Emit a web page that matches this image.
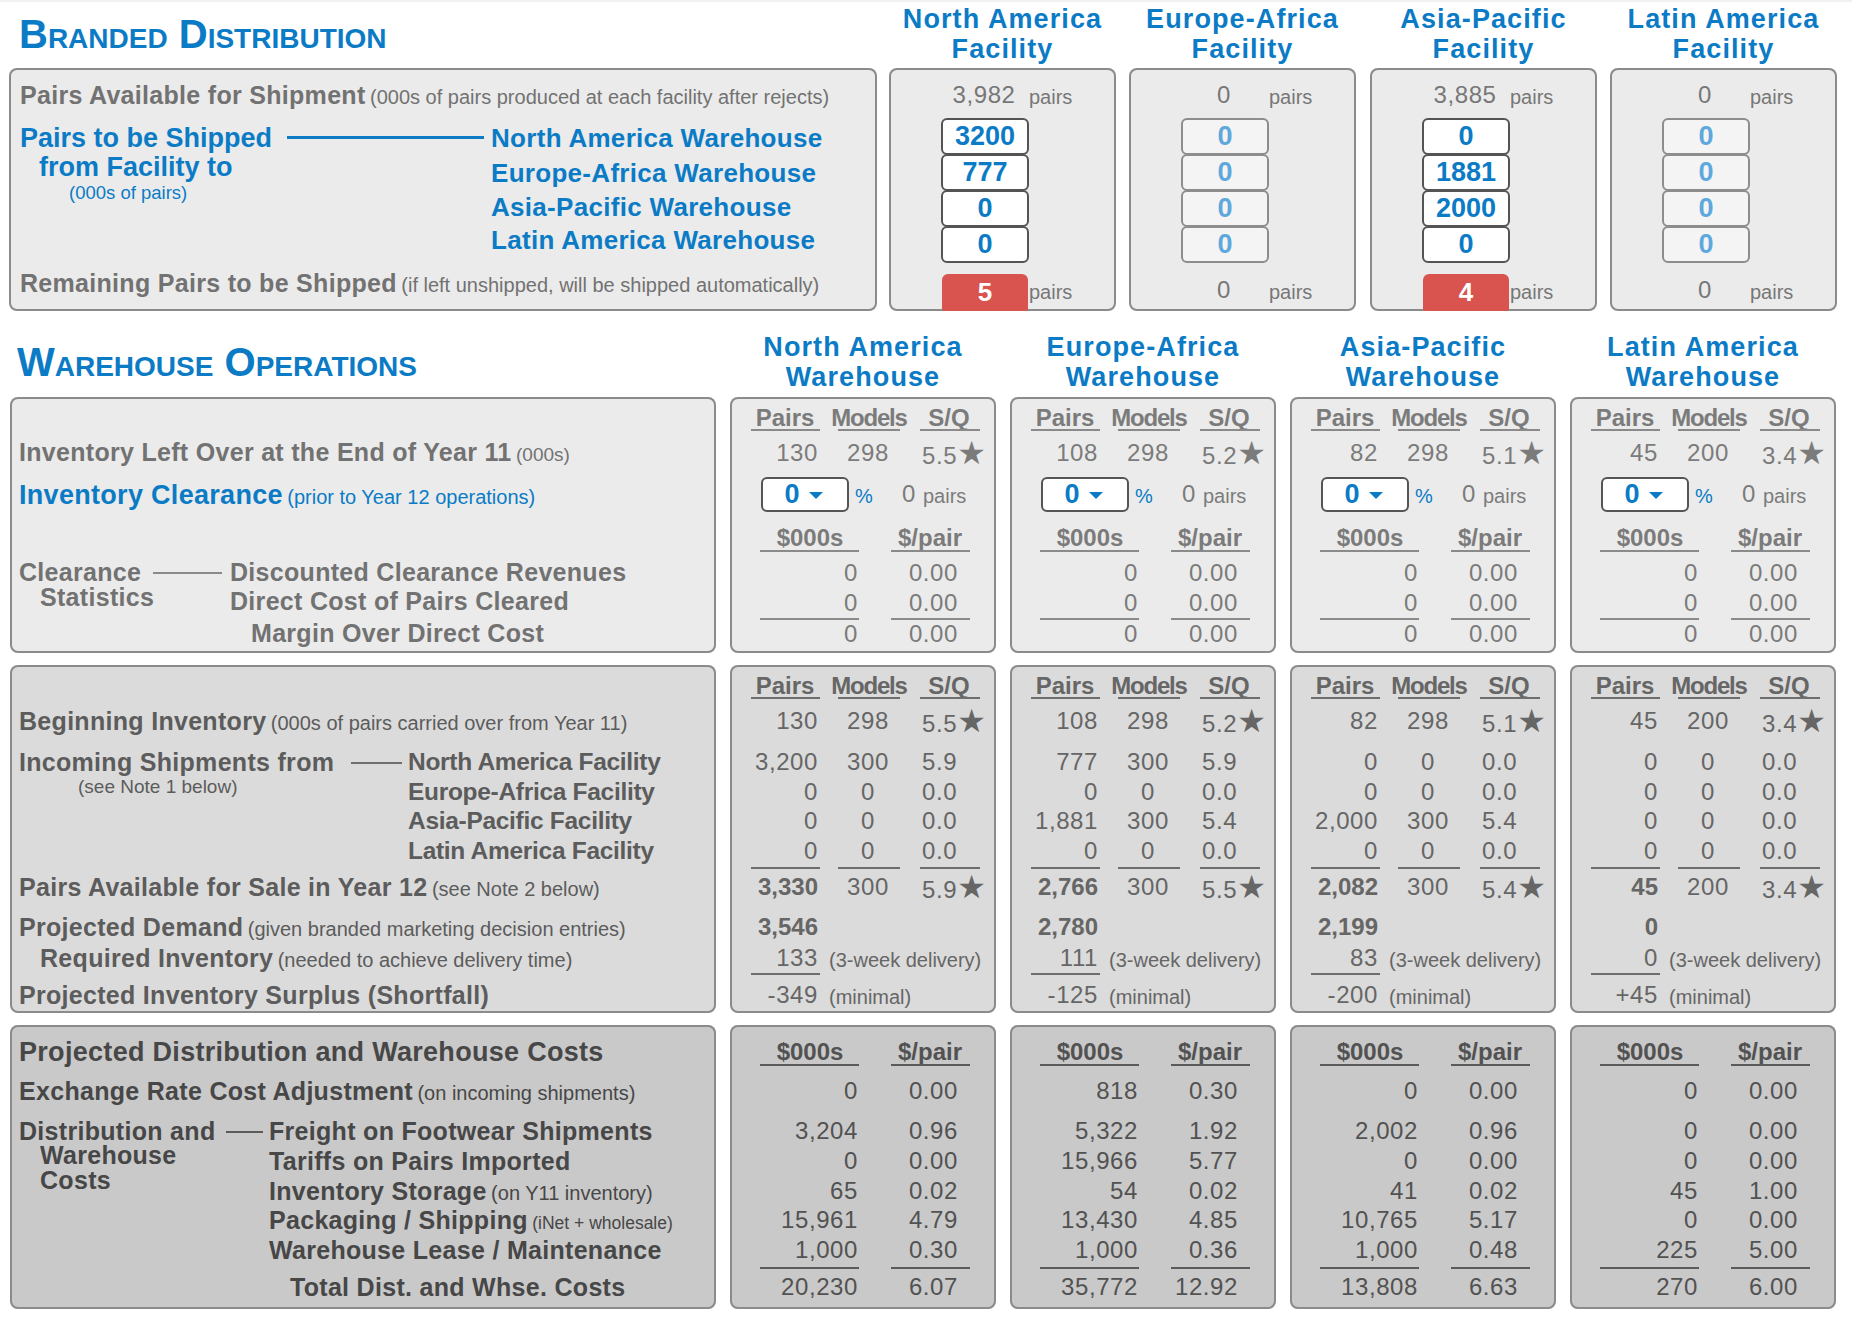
<!DOCTYPE html>
<html>
<head>
<meta charset="utf-8">
<title>Branded Distribution / Warehouse Operations</title>
<script src="https://cdn.jsdelivr.net/npm/chart.js@4.4.1/dist/chart.umd.min.js"></script>
<style>
  html, body { margin: 0; padding: 0; background: #fff; }
  body { width: 1852px; height: 1320px; position: relative; overflow: hidden;
         font-family: "Liberation Sans", Arial, Helvetica, sans-serif;
         box-shadow: inset 0 2px 0 #f1f1f1; }
  .box { position: absolute; border-radius: 8px; box-shadow: inset 0 0 0 2px #8b8b8b; }
  .t { position: absolute; white-space: nowrap; height: 22px; line-height: 22px; }
  .lab { font-weight: bold; font-size: 25px; letter-spacing: .3px; }
  .sub { font-weight: normal; font-size: 20px; letter-spacing: 0; }
  .val { font-size: 24px; letter-spacing: .6px; }
  .hdr { font-weight: bold; font-size: 24px; }
  .star { font-family: "DejaVu Sans", sans-serif; font-size: 32px; letter-spacing: 0; line-height: 22px; }
  .blue { color: #0b7bc6; }
  .title { font-weight: bold; font-size: 40px; font-variant: small-caps; color: #0b7bc6; }
  .colh { font-weight: bold; font-size: 27px; letter-spacing: 1.1px; color: #0b7bc6; }
  .rule { position: absolute; height: 2px; }
  .inp { position: absolute; box-sizing: border-box; border-radius: 6px; text-align: center;
         font-weight: bold; font-size: 27px; }
</style>
</head>
<body>
<script>
/* ─── Data ───────────────────────────────────── */
const facilities = ['North America', 'Europe-Africa', 'Asia-Pacific', 'Latin America'];
const pairsAvailable = [3982, 0, 3885, 0];
const facilityActive = [true, false, true, false];
// pairs shipped from each facility to the NA / EA / AP / LA warehouses
const shipFromNA = [3200, 777, 0, 0];
const shipFromEA = [0, 0, 0, 0];
const shipFromAP = [0, 1881, 2000, 0];
const shipFromLA = [0, 0, 0, 0];
const remainingPairs = [5, 0, 4, 0];

// warehouse columns: NA / EA / AP / LA
const leftPairs  = [130, 108, 82, 45];
const leftModels = [298, 298, 298, 200];
const leftSQ     = [5.5, 5.2, 5.1, 3.4];
const clearancePct   = [0, 0, 0, 0];
const clearancePairs = [0, 0, 0, 0];
const clearRevK  = [0, 0, 0, 0];
const clearRevP  = [0, 0, 0, 0];
const clearCostK = [0, 0, 0, 0];
const clearCostP = [0, 0, 0, 0];
const clearMarK  = [0, 0, 0, 0];
const clearMarP  = [0, 0, 0, 0];

const inNAPairs = [3200, 777, 0, 0];   const inNAModels = [300, 300, 0, 0];   const inNASQ = [5.9, 5.9, 0.0, 0.0];
const inEAPairs = [0, 0, 0, 0];        const inEAModels = [0, 0, 0, 0];       const inEASQ = [0.0, 0.0, 0.0, 0.0];
const inAPPairs = [0, 1881, 2000, 0];  const inAPModels = [0, 300, 300, 0];   const inAPSQ = [0.0, 5.4, 5.4, 0.0];
const inLAPairs = [0, 0, 0, 0];        const inLAModels = [0, 0, 0, 0];       const inLASQ = [0.0, 0.0, 0.0, 0.0];
const availPairs  = [3330, 2766, 2082, 45];
const availModels = [300, 300, 300, 200];
const availSQ     = [5.9, 5.5, 5.4, 3.4];
const demand   = [3546, 2780, 2199, 0];
const required = [133, 111, 83, 0];
const surplus  = [-349, -125, -200, 45];

const exchK    = [0, 818, 0, 0];            const exchP    = [0.00, 0.30, 0.00, 0.00];
const freightK = [3204, 5322, 2002, 0];     const freightP = [0.96, 1.92, 0.96, 0.00];
const tariffK  = [0, 15966, 0, 0];          const tariffP  = [0.00, 5.77, 0.00, 0.00];
const storeK   = [65, 54, 41, 45];          const storeP   = [0.02, 0.02, 0.02, 1.00];
const packK    = [15961, 13430, 10765, 0];  const packP    = [4.79, 4.85, 5.17, 0.00];
const leaseK   = [1000, 1000, 1000, 225];   const leaseP   = [0.30, 0.36, 0.48, 5.00];
const totalK   = [20230, 35772, 13808, 270]; const totalP  = [6.07, 12.92, 6.63, 6.00];

/* ─── Layout helpers ─────────────────────────── */
const BLUE = '#0b7bc6';
const FAC_X = [889, 1129, 1370, 1610], FAC_W = 227;
const WH_X  = [730, 1010, 1290, 1570], WH_W = 266;

const fmt = n => n.toLocaleString('en-US');
const f1 = n => n.toFixed(1);
const f2 = n => n.toFixed(2);
const sgn = n => (n > 0 ? '+' : '') + fmt(n);
const STAR = '<span class="star">★</span>';

function box(x, y, w, h, bg, color) {
  const d = document.createElement('div');
  d.className = 'box';
  Object.assign(d.style, { left: x + 'px', top: y + 'px', width: w + 'px', height: h + 'px', background: bg, color: color });
  document.body.appendChild(d);
  return d;
}

// y is the vertical centre of the text line
function txt(parent, x, y, html, cls, align, css) {
  const d = document.createElement('div');
  d.className = 't ' + (cls || '');
  d.innerHTML = html;
  d.style.left = x + 'px';
  d.style.top = (y - 11) + 'px';
  if (align === 'r') d.style.transform = 'translateX(-100%)';
  if (align === 'c') d.style.transform = 'translateX(-50%)';
  if (css) Object.assign(d.style, css);
  parent.appendChild(d);
  return d;
}

// several lines in one text block, y is the centre of the first line
function block(parent, x, y, lh, html, cls, align, css) {
  const d = txt(parent, x, y, html, cls, align, css);
  Object.assign(d.style, { top: (y - lh / 2) + 'px', height: 'auto', lineHeight: lh + 'px' });
  if (align === 'c') d.style.textAlign = 'center';
  return d;
}

function rule(parent, x, y, w, color, h) {
  const d = document.createElement('div');
  d.className = 'rule';
  Object.assign(d.style, { left: x + 'px', top: y + 'px', width: w + 'px', height: (h || 2) + 'px', background: color });
  parent.appendChild(d);
}

const ind = (px, s, extra) => `<span style="margin-left:${px}px;${extra || ''}">${s}</span>`;
const body = document.body;

/* ═══════════════════════════════════════════════
   Branded distribution
═══════════════════════════════════════════════ */
txt(body, 19, 34, 'Branded Distribution', 'title');
facilities.forEach((f, i) => block(body, FAC_X[i] + FAC_W / 2, 19, 30.5, f + '<br>Facility', 'colh', 'c'));

const bd = box(9, 68, 868, 243, '#ebebeb', '#727272');
txt(bd, 11, 27, '<span class="lab">Pairs Available for Shipment</span> <span class="sub">(000s of pairs produced at each facility after rejects)</span>');
block(bd, 11, 70, 29, 'Pairs to be Shipped<br>' + ind(19, 'from Facility to'), 'lab blue', null, { fontSize: '27px', letterSpacing: '0' });
txt(bd, 60, 125, '(000s of pairs)', 'sub blue', null, { fontSize: '18.5px' });
rule(bd, 278, 68, 197, BLUE, 3);
['North America Warehouse', 'Europe-Africa Warehouse', 'Asia-Pacific Warehouse', 'Latin America Warehouse']
  .forEach((w, j) => txt(bd, 482, [70, 105, 139, 172][j], w, 'lab blue', null, { fontSize: '26px' }));
txt(bd, 11, 215, '<span class="lab">Remaining Pairs to be Shipped</span> <span class="sub">(if left unshipped, will be shipped automatically)</span>');

const shipments = [shipFromNA, shipFromEA, shipFromAP, shipFromLA];
facilities.forEach((f, i) => {
  const b = box(FAC_X[i], 68, FAC_W, 243, '#ebebeb', '#777');
  txt(b, 95, 27, fmt(pairsAvailable[i]), 'val', 'c');
  txt(b, 140, 29, 'pairs', 'sub');
  const on = facilityActive[i];
  shipments[i].forEach((v, j) => {
    const d = document.createElement('div');
    d.className = 'inp';
    Object.assign(d.style, {
      left: '52px', top: (50 + j * 36) + 'px', width: '88px', height: '37px', lineHeight: '33px',
      border: '2px solid ' + (on ? '#545454' : '#8d8d8d'),
      background: on ? '#fff' : '#f4f4f4',
      color: on ? BLUE : '#5ea8dd'
    });
    d.textContent = v;
    b.appendChild(d);
  });
  if (remainingPairs[i] > 0) {
    const r = document.createElement('div');
    r.className = 'inp';
    Object.assign(r.style, {
      left: '53px', top: '206px', width: '86px', height: '37px', lineHeight: '37px',
      background: '#d9534f', color: '#fff', fontSize: '26px', borderRadius: '6px 6px 2px 2px'
    });
    r.textContent = remainingPairs[i];
    b.appendChild(r);
  } else {
    txt(b, 95, 222, fmt(remainingPairs[i]), 'val', 'c');
  }
  txt(b, 140, 224, 'pairs', 'sub');
});

/* ═══════════════════════════════════════════════
   Warehouse operations
═══════════════════════════════════════════════ */
txt(body, 17, 362, 'Warehouse Operations', 'title');
facilities.forEach((f, i) => block(body, WH_X[i] + WH_W / 2, 347, 30.5, f + '<br>Warehouse', 'colh', 'c'));

function pmsHeader(b, y, c) {
  txt(b, 55, y, 'Pairs', 'hdr', 'c');
  txt(b, 139, y, 'Models', 'hdr', 'c', { letterSpacing: '-1.2px' });
  txt(b, 219, y, 'S/Q', 'hdr', 'c');
  rule(b, 21, y + 11, 69, c); rule(b, 108, y + 11, 62, c); rule(b, 190, y + 11, 60, c);
}
function pmsRow(b, y, p, m, q, star, boldPairs) {
  txt(b, 88, y, fmt(p), 'val', 'r', boldPairs ? { fontWeight: 'bold', letterSpacing: '0' } : null);
  txt(b, 138, y, fmt(m), 'val', 'c');
  txt(b, 192, y, f1(q) + (star ? STAR : ''), 'val');
}
function moneyHeader(b, y, c) {
  txt(b, 80, y, '$000s', 'hdr', 'c');
  txt(b, 200, y, '$/pair', 'hdr', 'c');
  rule(b, 30, y + 12, 99, c); rule(b, 161, y + 12, 79, c);
}
function moneyRow(b, y, k, p) {
  txt(b, 128, y, fmt(k), 'val', 'r');
  txt(b, 228, y, f2(p), 'val', 'r');
}

// box 1 : inventory left over and clearance
const c1 = '#8a8a8a';
const w1 = box(10, 397, 706, 256, '#ebebeb', '#727272');
txt(w1, 9, 55, '<span class="lab">Inventory Left Over at the End of Year 11</span> <span class="sub" style="font-size:19px">(000s)</span>');
txt(w1, 9, 98, '<span class="lab" style="font-size:27px">Inventory Clearance</span> <span class="sub">(prior to Year 12 operations)</span>', 'blue');
block(w1, 9, 175, 25, 'Clearance<br>' + ind(21, 'Statistics'), 'lab');
rule(w1, 143, 175, 69, c1);
txt(w1, 220, 175, 'Discounted Clearance Revenues', 'lab');
txt(w1, 220, 204, 'Direct Cost of Pairs Cleared', 'lab');
txt(w1, 241, 236, 'Margin Over Direct Cost', 'lab');

facilities.forEach((f, i) => {
  const b = box(WH_X[i], 397, WH_W, 256, '#ebebeb', '#7b7b7b');
  pmsHeader(b, 21, c1);
  pmsRow(b, 56, leftPairs[i], leftModels[i], leftSQ[i], true);
  const dd = document.createElement('div');
  dd.className = 'inp';
  Object.assign(dd.style, { left: '31px', top: '80px', width: '88px', height: '35px', border: '2px solid #555', background: '#fff' });
  b.appendChild(dd);
  txt(b, 62, 97, String(clearancePct[i]), 'blue', 'c', { fontWeight: 'bold', fontSize: '27px' });
  const tri = document.createElement('div');
  Object.assign(tri.style, { position: 'absolute', left: '79px', top: '95px', width: 0, height: 0,
    borderLeft: '7px solid transparent', borderRight: '7px solid transparent', borderTop: '7px solid ' + BLUE });
  b.appendChild(tri);
  txt(b, 125, 99, '%', 'sub blue');
  txt(b, 172, 97, fmt(clearancePairs[i]), 'val');
  txt(b, 193, 99, 'pairs', 'sub');
  moneyHeader(b, 141, c1);
  moneyRow(b, 176, clearRevK[i], clearRevP[i]);
  moneyRow(b, 206, clearCostK[i], clearCostP[i]);
  rule(b, 30, 221, 99, c1); rule(b, 161, 221, 79, c1);
  moneyRow(b, 237, clearMarK[i], clearMarP[i]);
});

// box 2 : inventory, shipments, demand
const c2 = '#6e6e6e';
const w2 = box(10, 665, 706, 348, '#dbdbdb', '#5c5c5c');
txt(w2, 9, 56, '<span class="lab">Beginning Inventory</span> <span class="sub">(000s of pairs carried over from Year 11)</span>');
block(w2, 9, 97, 22, 'Incoming Shipments from<br>' + ind(59, '(see Note 1 below)', 'font-weight:normal;font-size:19px;letter-spacing:0'), 'lab');
rule(w2, 341, 97, 51, c2);
facilities.forEach((f, j) => txt(w2, 398, [97, 127, 156, 186][j], f + ' Facility', 'lab', null, { fontSize: '24.5px', letterSpacing: '-.3px' }));
txt(w2, 9, 222, '<span class="lab">Pairs Available for Sale in Year 12</span> <span class="sub">(see Note 2 below)</span>');
txt(w2, 9, 262, '<span class="lab">Projected Demand</span> <span class="sub">(given branded marketing decision entries)</span>');
txt(w2, 30, 293, '<span class="lab">Required Inventory</span> <span class="sub">(needed to achieve delivery time)</span>');
txt(w2, 9, 330, 'Projected Inventory Surplus (Shortfall)', 'lab');

const incoming = [
  [inNAPairs, inNAModels, inNASQ], [inEAPairs, inEAModels, inEASQ],
  [inAPPairs, inAPModels, inAPSQ], [inLAPairs, inLAModels, inLASQ]
];
facilities.forEach((f, i) => {
  const b = box(WH_X[i], 665, WH_W, 348, '#dbdbdb', '#666');
  pmsHeader(b, 21, c2);
  pmsRow(b, 56, leftPairs[i], leftModels[i], leftSQ[i], true);
  incoming.forEach((s, j) => pmsRow(b, [97, 127, 156, 186][j], s[0][i], s[1][i], s[2][i], false));
  rule(b, 21, 202, 69, c2); rule(b, 108, 202, 62, c2); rule(b, 190, 202, 60, c2);
  pmsRow(b, 222, availPairs[i], availModels[i], availSQ[i], true, true);
  txt(b, 88, 262, fmt(demand[i]), 'val', 'r', { fontWeight: 'bold', letterSpacing: '0' });
  txt(b, 88, 293, fmt(required[i]), 'val', 'r');
  txt(b, 99, 295, '(3-week delivery)', 'sub');
  rule(b, 21, 308, 69, c2);
  txt(b, 88, 330, sgn(surplus[i]), 'val', 'r');
  txt(b, 99, 332, '(minimal)', 'sub');
});

// box 3 : projected costs
const c3 = '#5a5a5a';
const w3 = box(10, 1025, 706, 284, '#c9c9c9', '#474747');
txt(w3, 9, 27, 'Projected Distribution and Warehouse Costs', 'lab', null, { fontSize: '27px' });
txt(w3, 9, 66, '<span class="lab">Exchange Rate Cost Adjustment</span> <span class="sub">(on incoming shipments)</span>');
block(w3, 9, 106, 24.5, 'Distribution and<br>' + ind(21, 'Warehouse') + '<br>' + ind(21, 'Costs'), 'lab');
rule(w3, 216, 106, 37, c3);
txt(w3, 259, 106, 'Freight on Footwear Shipments', 'lab');
txt(w3, 259, 136, 'Tariffs on Pairs Imported', 'lab');
txt(w3, 259, 166, '<span class="lab">Inventory Storage</span> <span class="sub">(on Y11 inventory)</span>');
txt(w3, 259, 195, '<span class="lab">Packaging / Shipping</span> <span class="sub" style="font-size:17.5px">(iNet + wholesale)</span>');
txt(w3, 259, 225, 'Warehouse Lease / Maintenance', 'lab');
txt(w3, 280, 262, 'Total Dist. and Whse. Costs', 'lab');

facilities.forEach((f, i) => {
  const b = box(WH_X[i], 1025, WH_W, 284, '#c9c9c9', '#525252');
  moneyHeader(b, 27, c3);
  moneyRow(b, 66, exchK[i], exchP[i]);
  moneyRow(b, 106, freightK[i], freightP[i]);
  moneyRow(b, 136, tariffK[i], tariffP[i]);
  moneyRow(b, 166, storeK[i], storeP[i]);
  moneyRow(b, 195, packK[i], packP[i]);
  moneyRow(b, 225, leaseK[i], leaseP[i]);
  rule(b, 30, 242, 99, c3); rule(b, 161, 242, 79, c3);
  moneyRow(b, 262, totalK[i], totalP[i]);
});
</script>
</body>
</html>
